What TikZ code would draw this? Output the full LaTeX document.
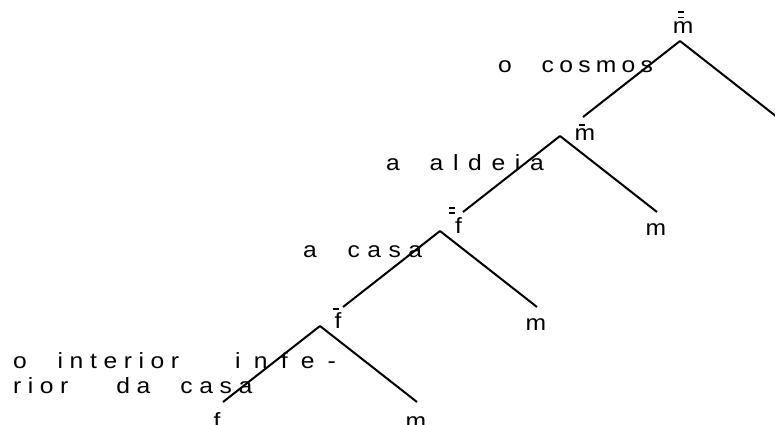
\documentclass[tikz,border=0pt]{standalone}
\usepackage{fontspec}
\setmainfont{Liberation Sans}[FakeStretch=1.12]
\newfontfamily\glossfont{Liberation Sans}[FakeStretch=1.12,LetterSpace=30]
\newcommand\glossset{\fontsize{22}{25}\glossfont}
\newcommand\gap[1]{\hspace{#1}}
% letter with one or two bars over it (optional shift of the bars)
\newcommand\onebar[2][0pt]{\setbox0\hbox{#2}\rlap{\hspace*{#1}\hbox to\wd0{\hss\raisebox{\dimexpr\ht0+2.5pt}{\rule{6pt}{1.6pt}}\hss}}\box0}
\newcommand\twobar[2][0pt]{\setbox0\hbox{#2}\rlap{\hspace*{#1}\hbox to\wd0{\hss\rlap{\raisebox{\dimexpr\ht0+3pt}{\rule{6pt}{1.6pt}}}\raisebox{\dimexpr\ht0+8.5pt}{\rule{6pt}{1.6pt}}\hss}}\box0}

\begin{document}
\begin{tikzpicture}[x=1pt, y=-1pt, line width=2pt,
                    label node/.style={font=\fontsize{22}{25}\selectfont,anchor=base,inner sep=0pt},
                    gloss node/.style={font=\glossset,anchor=base west,inner sep=0pt}]
  \useasboundingbox (0,0) rectangle (775,424);

  \coordinate (r1) at (680,41);
  \coordinate (r2) at (560,136);
  \coordinate (r3) at (440,231);
  \coordinate (r4) at (320,326);
  \coordinate (l1) at (583,117);  \coordinate (e1) at (777,117);
  \coordinate (l2) at (463,212);  \coordinate (e2) at (657,212);
  \coordinate (l3) at (343,307);  \coordinate (e3) at (537,307);
  \coordinate (l4) at (223,402);  \coordinate (e4) at (417,402);

  \draw (r1) -- (l1);  \draw (r1) -- (e1);
  \draw (r2) -- (l2);  \draw (r2) -- (e2);
  \draw (r3) -- (l3);  \draw (r3) -- (e3);
  \draw (r4) -- (l4);  \draw (r4) -- (e4);

  \node[label node] (m0) at (683,33) {\twobar[-2pt]{m}};
  \node[label node] (m1) at (585,140) {\onebar[-3pt]{m}};
  \node[label node] (f2) at (458.5,233) {\twobar[-6.5pt]{f}};
  \node[label node] (f3) at (338,328) {\onebar[-2.5pt]{f}};
  \node[label node] (f4) at (217,428) {f};
  \node[label node] (m2) at (656,235) {m};
  \node[label node] (m3) at (536,330) {m};
  \node[label node] (m4) at (416,428) {m};

  \node[gloss node,font=\glossset\addfontfeature{LetterSpace=24}] (g1) at (497,72) {o\gap{30pt}cosmos};
  \node[gloss node,font=\glossset\addfontfeature{LetterSpace=44}] (g2) at (385,170) {a\gap{30pt}aldeia};
  \node[gloss node,font=\glossset\addfontfeature{LetterSpace=34}] (g3) at (302,257) {a\gap{31pt}casa};
  \node[gloss node,align=left] (g4) at (12,393) {o\gap{31pt}interior\gap{56pt}{\addfontfeature{LetterSpace=60}infe-}\\rior\gap{48pt}da\gap{30pt}casa};
\end{tikzpicture}
\end{document}
